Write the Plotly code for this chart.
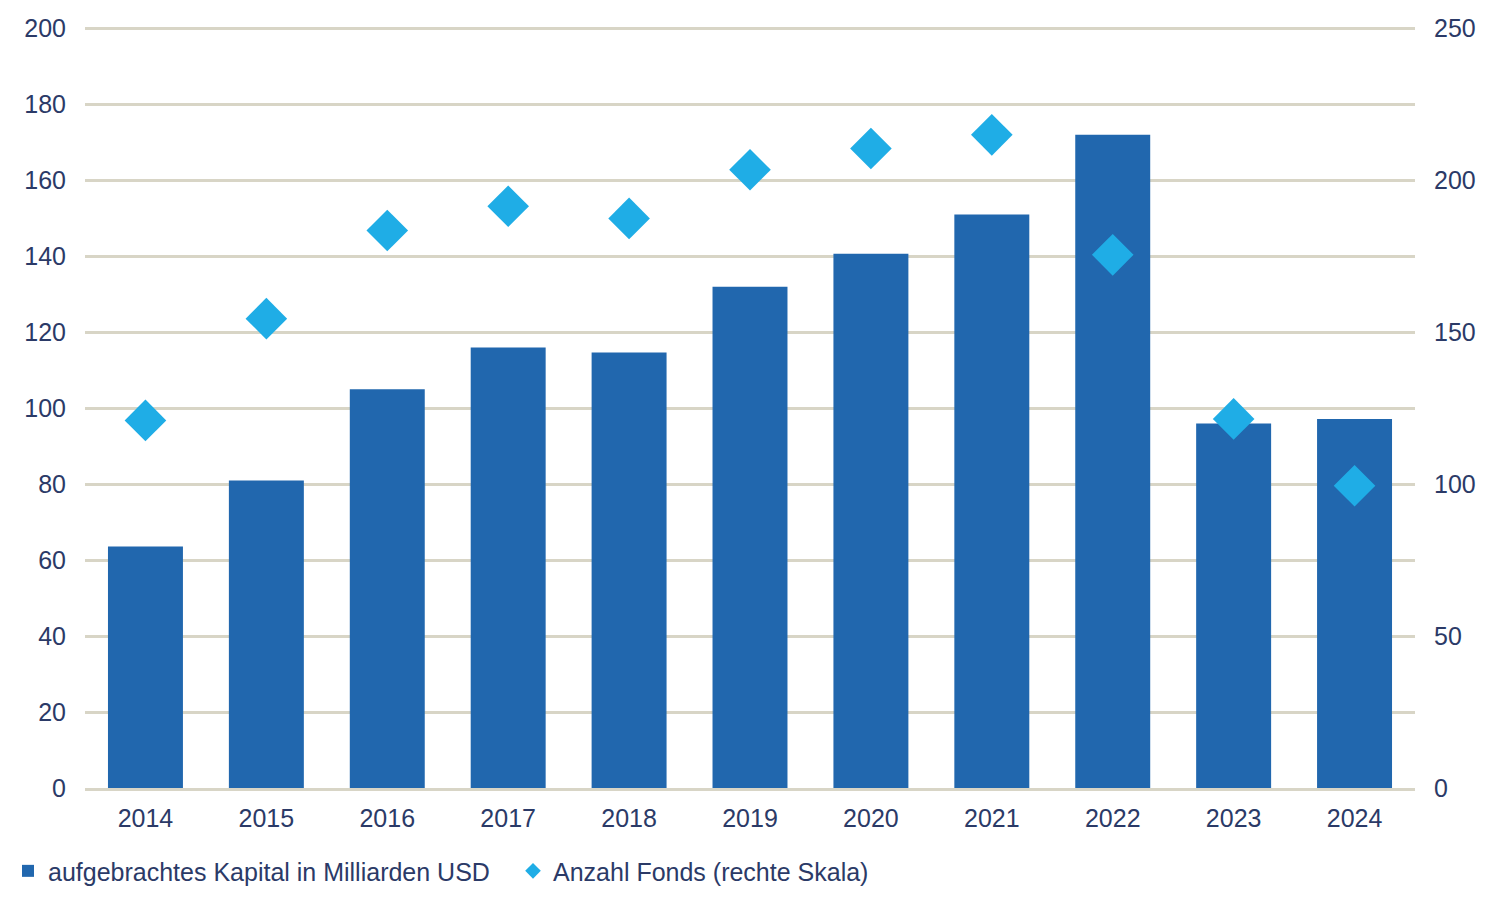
import plotly.graph_objects as go

years = ["2014", "2015", "2016", "2017", "2018", "2019", "2020", "2021", "2022", "2023", "2024"]
kapital = [63.6, 81, 105, 116, 114.7, 132, 140.7, 151, 172, 96, 97.2]
fonds = [121, 154.5, 183.5, 191.5, 187.5, 203.5, 210.5, 215, 175.5, 121.5, 99.5]

text_col = "#2b3a67"
grid_col = "#d8d5c6"

fig = go.Figure()

fig.add_trace(go.Bar(
    name="aufgebrachtes Kapital in Milliarden USD",
    x=years,
    y=kapital,
    marker_color="#2167ae",
    marker_line_width=0,
))

fig.add_trace(go.Scatter(
    name="Anzahl Fonds (rechte Skala)",
    x=years,
    y=fonds,
    yaxis="y2",
    mode="markers",
    marker=dict(symbol="diamond", size=32, color="#1fade6"),
))

fig.update_layout(
    width=1500,
    height=900,
    margin=dict(l=77, r=93, t=19, b=120),
    plot_bgcolor="white",
    paper_bgcolor="white",
    font=dict(family="Liberation Sans", size=25, color=text_col),
    bargap=0.38,
    showlegend=True,
    legend=dict(
        orientation="h",
        xref="container", yref="container",
        x=0.0, y=0.041,
        xanchor="left", yanchor="middle",
        font=dict(size=25, color=text_col),
        itemsizing="constant",
        traceorder="normal",
        entrywidth=460,
    ),
    xaxis=dict(
        range=[-0.5, len(years) - 0.5],
        showgrid=False,
        showline=True,
        linecolor=grid_col,
        linewidth=3,
        ticks="",
        automargin=False,
        ticklabelstandoff=6,
    ),
    yaxis=dict(
        range=[0, 200.4],
        tickvals=[0, 20, 40, 60, 80, 100, 120, 140, 160, 180, 200],
        showgrid=True,
        gridcolor=grid_col,
        gridwidth=3,
        zeroline=False,
        ticks="",
        automargin=False,
        ticklabelstandoff=18,
    ),
    yaxis2=dict(
        range=[0, 250.5],
        tickvals=[0, 50, 100, 150, 200, 250],
        overlaying="y",
        side="right",
        showgrid=False,
        zeroline=False,
        ticks="",
        automargin=False,
        ticklabelstandoff=18,
    ),
)

fig.write_html("out.html")
